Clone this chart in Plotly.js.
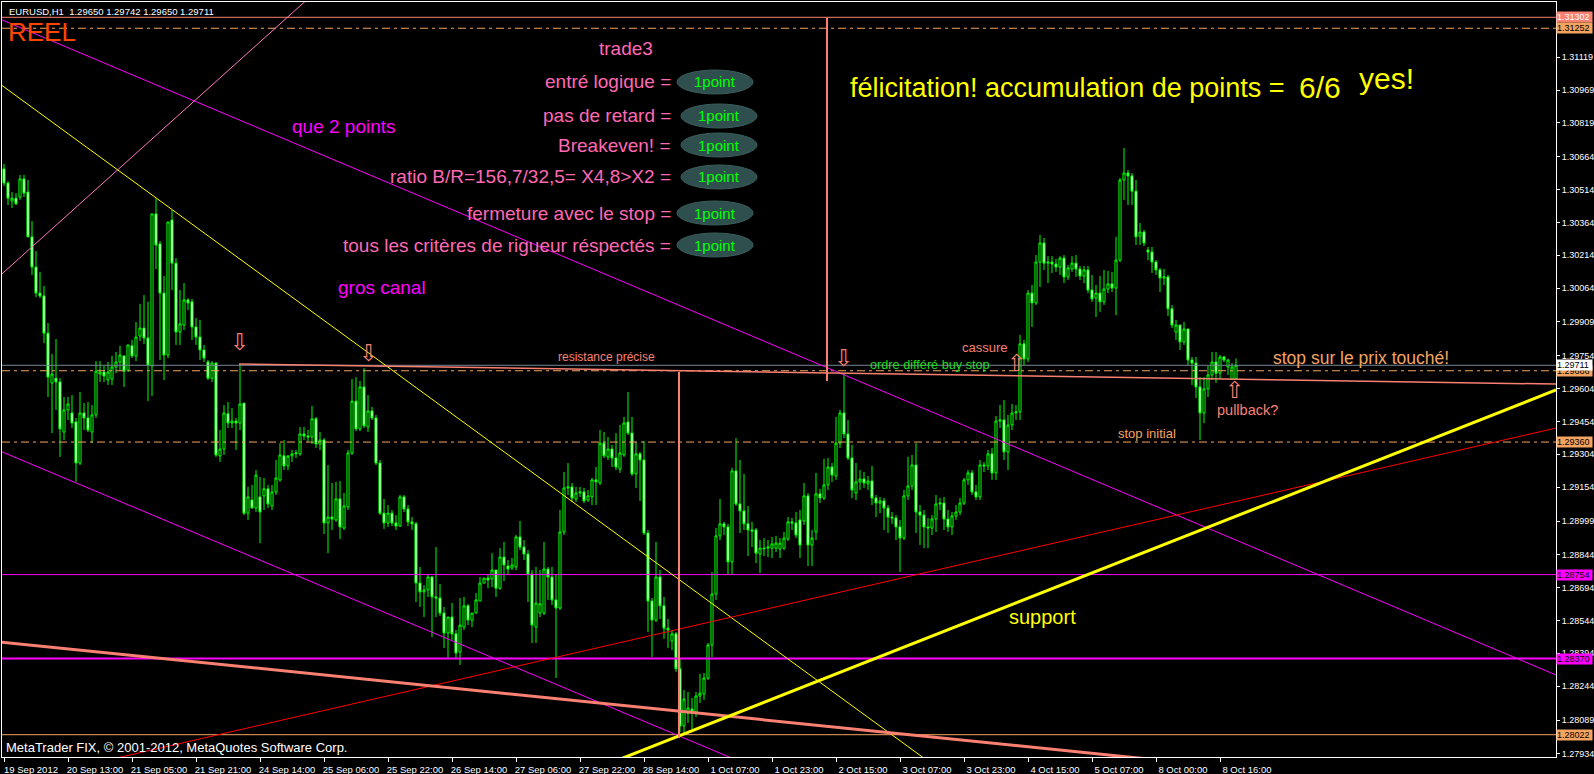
<!DOCTYPE html>
<html><head><meta charset="utf-8">
<script src="https://cdn.plot.ly/plotly-3.0.1.min.js"></script>
<style>html,body{margin:0;padding:0;background:#000;overflow:hidden}#chart{width:1594px;height:774px}</style>
</head><body><div id="chart"></div>
<script>
// ---------- DATA (EURUSD H1) ----------
const barOpen=[
1.30609,1.30544,1.30462,1.30475,1.30480,1.30563,1.30503,1.30298,1.30160,1.30041,
1.30028,1.29858,1.29630,1.29652,1.29635,1.29406,1.29507,1.29493,1.29452,1.29264,
1.29493,1.29470,1.29406,1.29484,1.29671,1.29680,1.29644,1.29648,1.29703,1.29726,
1.29754,1.29689,1.29800,1.29754,1.29845,1.29881,1.29836,1.29708,1.30403,1.30266,
1.30041,1.29758,1.30375,1.30178,1.29863,1.29895,1.30010,1.30001,1.29886,1.29840,
1.29781,1.29726,1.29652,1.29721,1.29297,1.29328,1.29489,1.29447,1.29456,1.29447,
1.29538,1.29035,1.29095,1.29058,1.29109,1.29114,1.29146,1.29068,1.29132,1.29187,
1.29297,1.29251,1.29297,1.29306,1.29306,1.29397,1.29388,1.29383,1.29466,1.29351,
1.29369,1.28990,1.29017,1.29004,1.29100,1.28967,1.29063,1.29310,1.29547,1.29420,
1.29612,1.29429,1.29502,1.29470,1.29264,1.29035,1.28990,1.29035,1.28990,1.28976,
1.29109,1.29054,1.28995,1.28986,1.28715,1.28675,1.28684,1.28743,1.28652,1.28647,
1.28578,1.28487,1.28560,1.28483,1.28400,1.28514,1.28611,1.28546,1.28578,1.28633,
1.28715,1.28738,1.28734,1.28775,1.28692,1.28834,1.28793,1.28784,1.28789,1.28926,
1.28880,1.28848,1.28757,1.28514,1.28578,1.28578,1.28779,1.28743,1.28638,1.28601,
1.28949,1.29150,1.29155,1.29100,1.29127,1.29132,1.29095,1.29109,1.29187,1.29173,
1.29355,1.29292,1.29328,1.29287,1.29237,1.29301,1.29452,1.29401,1.29214,1.29306,
1.29278,1.28944,1.28633,1.28546,1.28743,1.28611,1.28509,1.28450,1.28483,1.28323,
1.28062,1.28121,1.28139,1.28126,1.28199,1.28208,1.28281,1.28432,1.28665,1.28931,
1.28986,1.28972,1.28812,1.29228,1.29077,1.29045,1.28986,1.28958,1.28958,1.28848,
1.28875,1.28875,1.28875,1.28875,1.28871,1.28875,1.28917,1.28995,1.28990,1.29004,
1.28999,1.29114,1.28889,1.28949,1.29123,1.29104,1.29164,1.29246,1.29205,1.29355,
1.29493,1.29397,1.29287,1.29127,1.29178,1.29191,1.29169,1.29182,1.29104,1.29081,
1.29091,1.29058,1.29017,1.29013,1.28972,1.28921,1.29114,1.29159,1.29255,1.29040,
1.29026,1.28972,1.28967,1.29008,1.29077,1.29081,1.29008,1.28972,1.29022,1.29040,
1.29081,1.29187,1.29219,1.29132,1.29109,1.29255,1.29251,1.29306,1.29219,1.29456,
1.29461,1.29315,1.29438,1.29493,1.29498,1.29809,1.29740,1.30041,1.29996,1.30183,
1.30270,1.30178,1.30183,1.30174,1.30160,1.30201,1.30115,1.30151,1.30178,1.30151,
1.30119,1.30147,1.30055,1.30018,1.30041,1.30001,1.30060,1.30083,1.30064,1.30192,
1.30558,1.30590,1.30577,1.30507,1.30302,1.30320,1.30238,1.30229,1.30183,1.30147,
1.30110,1.30115,1.29969,1.29863,1.29895,1.29818,1.29877,1.29735,1.29721,1.29612,
1.29493,1.29603,1.29667,1.29726,1.29675,1.29749,1.29703,1.29648,1.29650];
const barHigh=[
1.30632,1.30553,1.30503,1.30498,1.30581,1.30581,1.30558,1.30370,1.30233,1.30138,
1.30074,1.29904,1.29763,1.29831,1.29652,1.29566,1.29566,1.29575,1.29470,1.29589,
1.29538,1.29543,1.29529,1.29730,1.29730,1.29708,1.29726,1.29754,1.29772,1.29800,
1.29754,1.29804,1.29827,1.29909,1.29992,1.30032,1.30001,1.30403,1.30475,1.30279,
1.30120,1.30366,1.30421,1.30201,1.30055,1.30087,1.30018,1.30014,1.29927,1.29918,
1.29804,1.29735,1.29730,1.29726,1.29415,1.29529,1.29543,1.29515,1.29470,1.29717,
1.29538,1.29155,1.29164,1.29232,1.29200,1.29196,1.29164,1.29164,1.29278,1.29355,
1.29369,1.29287,1.29324,1.29324,1.29429,1.29429,1.29415,1.29525,1.29475,1.29406,
1.29378,1.29255,1.29173,1.29178,1.29182,1.29127,1.29324,1.29648,1.29657,1.29639,
1.29698,1.29575,1.29520,1.29484,1.29278,1.29100,1.29072,1.29049,1.29026,1.29118,
1.29118,1.29072,1.29017,1.28995,1.28789,1.28706,1.28752,1.28748,1.28880,1.28711,
1.28606,1.28560,1.28624,1.28501,1.28647,1.28652,1.28620,1.28578,1.28670,1.28743,
1.28738,1.28752,1.28852,1.28775,1.28875,1.28903,1.28821,1.28830,1.28935,1.28999,
1.28912,1.28866,1.28775,1.28789,1.28775,1.28903,1.28789,1.28789,1.28752,1.29049,
1.29223,1.29264,1.29173,1.29155,1.29155,1.29150,1.29141,1.29196,1.29246,1.29415,
1.29406,1.29383,1.29347,1.29401,1.29438,1.29475,1.29589,1.29475,1.29360,1.29315,
1.29365,1.28958,1.28647,1.28903,1.28775,1.28652,1.28551,1.28501,1.28492,1.28368,
1.28226,1.28217,1.28190,1.28217,1.28300,1.28304,1.28441,1.28766,1.28967,1.29100,
1.28995,1.28986,1.29242,1.29378,1.29278,1.29214,1.29068,1.28995,1.28967,1.28912,
1.28921,1.28912,1.28926,1.28931,1.28921,1.28949,1.29017,1.29013,1.29040,1.29049,
1.29173,1.29127,1.28958,1.29219,1.29146,1.29283,1.29287,1.29264,1.29475,1.29507,
1.29675,1.29461,1.29347,1.29264,1.29232,1.29223,1.29205,1.29251,1.29118,1.29109,
1.29104,1.29072,1.29040,1.29026,1.29004,1.29141,1.29292,1.29301,1.29355,1.29072,
1.29049,1.29013,1.29026,1.29118,1.29104,1.29109,1.29049,1.29040,1.29072,1.29104,
1.29196,1.29232,1.29232,1.29164,1.29278,1.29269,1.29324,1.29333,1.29479,1.29529,
1.29552,1.29484,1.29534,1.29529,1.29850,1.29827,1.30055,1.30078,1.30215,1.30307,
1.30293,1.30210,1.30210,1.30197,1.30210,1.30215,1.30170,1.30210,1.30215,1.30165,
1.30165,1.30165,1.30124,1.30078,1.30120,1.30147,1.30142,1.30138,1.30298,1.30567,
1.30704,1.30604,1.30590,1.30558,1.30361,1.30330,1.30252,1.30252,1.30192,1.30156,
1.30151,1.30124,1.29987,1.29918,1.29895,1.29909,1.29877,1.29749,1.29749,1.29657,
1.29657,1.29708,1.29772,1.29772,1.29758,1.29754,1.29740,1.29721,1.29742];
const barLow=[
1.30531,1.30444,1.30430,1.30444,1.30467,1.30480,1.30298,1.30124,1.30023,1.30018,
1.29813,1.29566,1.29401,1.29507,1.29292,1.29369,1.29461,1.29424,1.29178,1.29255,
1.29415,1.29406,1.29355,1.29470,1.29635,1.29635,1.29621,1.29621,1.29675,1.29689,
1.29612,1.29680,1.29744,1.29730,1.29822,1.29809,1.29547,1.29571,1.30151,1.29735,
1.29644,1.29744,1.30055,1.29804,1.29804,1.29872,1.29964,1.29827,1.29804,1.29735,
1.29726,1.29644,1.29635,1.29292,1.29269,1.29301,1.29424,1.29424,1.29324,1.29415,
1.29026,1.29004,1.29058,1.29040,1.28898,1.29049,1.29058,1.29049,1.29118,1.29178,
1.29232,1.29232,1.29269,1.29287,1.29297,1.29369,1.29360,1.29351,1.29333,1.29324,
1.28940,1.28852,1.28958,1.28995,1.28917,1.28958,1.29049,1.29301,1.29410,1.29410,
1.29424,1.29406,1.29461,1.29255,1.29026,1.28963,1.28972,1.28976,1.28958,1.28972,
1.29040,1.28976,1.28958,1.28629,1.28606,1.28560,1.28652,1.28468,1.28560,1.28565,
1.28418,1.28372,1.28455,1.28368,1.28341,1.28501,1.28523,1.28514,1.28578,1.28633,
1.28715,1.28692,1.28697,1.28652,1.28684,1.28724,1.28752,1.28775,1.28775,1.28866,
1.28821,1.28629,1.28441,1.28441,1.28560,1.28569,1.28638,1.28615,1.28281,1.28592,
1.28935,1.29118,1.29086,1.29086,1.29109,1.29081,1.29086,1.29072,1.29072,1.29164,
1.29287,1.29278,1.29246,1.29232,1.29219,1.29292,1.29392,1.29205,1.29150,1.29091,
1.28935,1.28492,1.28377,1.28537,1.28551,1.28460,1.28418,1.28409,1.28309,1.28034,
1.28030,1.28076,1.28048,1.28103,1.28167,1.28181,1.28272,1.28377,1.28638,1.28912,
1.28935,1.28752,1.28752,1.29068,1.28944,1.28958,1.28839,1.28880,1.28807,1.28761,
1.28839,1.28834,1.28830,1.28857,1.28830,1.28866,1.28908,1.28958,1.28921,1.28830,
1.28981,1.28793,1.28793,1.28912,1.29081,1.29095,1.29141,1.29178,1.29187,1.29333,
1.29378,1.29278,1.29104,1.29095,1.29141,1.29150,1.29141,1.29072,1.29017,1.29035,
1.28958,1.28944,1.28986,1.28912,1.28766,1.28912,1.29095,1.29141,1.28944,1.28889,
1.28875,1.28875,1.28935,1.28949,1.29049,1.28958,1.28949,1.28935,1.29004,1.29026,
1.29072,1.29164,1.29118,1.29095,1.29095,1.29223,1.29232,1.29187,1.29187,1.29424,
1.29278,1.29232,1.29415,1.29461,1.29461,1.29712,1.29726,1.29886,1.29987,1.30069,
1.30147,1.30087,1.30133,1.30138,1.30124,1.30087,1.30101,1.30138,1.30115,1.30101,
1.30087,1.30041,1.30001,1.29932,1.29955,1.29987,1.30041,1.30046,1.29941,1.30183,
1.30467,1.30444,1.30444,1.30261,1.30261,1.30256,1.30192,1.30133,1.30124,1.30046,
1.30078,1.29936,1.29881,1.29827,1.29781,1.29804,1.29712,1.29621,1.29561,1.29369,
1.29447,1.29566,1.29644,1.29630,1.29648,1.29726,1.29667,1.29644,1.29650];
const barClose=[
1.30544,1.30475,1.30475,1.30449,1.30563,1.30498,1.30298,1.30160,1.30041,1.30028,
1.29858,1.29657,1.29671,1.29635,1.29420,1.29507,1.29534,1.29447,1.29264,1.29493,
1.29470,1.29415,1.29484,1.29684,1.29680,1.29662,1.29680,1.29703,1.29726,1.29758,
1.29684,1.29804,1.29754,1.29840,1.29881,1.29836,1.29712,1.30403,1.30261,1.30041,
1.29758,1.30366,1.30178,1.29863,1.29900,1.30010,1.29996,1.29886,1.29840,1.29781,
1.29744,1.29652,1.29721,1.29301,1.29328,1.29493,1.29447,1.29456,1.29447,1.29534,
1.29035,1.29109,1.29058,1.29209,1.29040,1.29146,1.29077,1.29132,1.29196,1.29301,
1.29251,1.29297,1.29306,1.29310,1.29397,1.29388,1.29383,1.29466,1.29351,1.29369,
1.28990,1.29017,1.29008,1.29100,1.28972,1.29068,1.29310,1.29547,1.29420,1.29612,
1.29434,1.29502,1.29470,1.29264,1.29035,1.28990,1.29035,1.28990,1.28976,1.29109,
1.29054,1.28995,1.28986,1.28715,1.28675,1.28684,1.28743,1.28652,1.28647,1.28578,
1.28487,1.28560,1.28483,1.28395,1.28523,1.28611,1.28546,1.28578,1.28638,1.28715,
1.28738,1.28729,1.28775,1.28692,1.28834,1.28798,1.28779,1.28798,1.28926,1.28880,
1.28848,1.28757,1.28523,1.28624,1.28620,1.28779,1.28743,1.28638,1.28601,1.28949,
1.29150,1.29155,1.29104,1.29127,1.29132,1.29091,1.29114,1.29187,1.29178,1.29355,
1.29297,1.29328,1.29287,1.29246,1.29310,1.29447,1.29401,1.29214,1.29306,1.29278,
1.28944,1.28633,1.28546,1.28743,1.28611,1.28509,1.28501,1.28483,1.28323,1.28062,
1.28185,1.28144,1.28126,1.28199,1.28212,1.28281,1.28432,1.28665,1.28931,1.28986,
1.28972,1.28812,1.29228,1.29077,1.29045,1.28986,1.28958,1.28953,1.28852,1.28875,
1.28872,1.28880,1.28894,1.28898,1.28898,1.28921,1.28995,1.28990,1.28935,1.28889,
1.29114,1.28889,1.28921,1.29123,1.29104,1.29164,1.29246,1.29209,1.29355,1.29493,
1.29397,1.29287,1.29141,1.29178,1.29191,1.29173,1.29182,1.29104,1.29081,1.29091,
1.29058,1.29017,1.29013,1.28972,1.28921,1.29114,1.29159,1.29255,1.29040,1.29026,
1.28972,1.28967,1.29008,1.29077,1.29081,1.29008,1.28972,1.29022,1.29040,1.29081,
1.29187,1.29219,1.29132,1.29109,1.29255,1.29251,1.29306,1.29219,1.29456,1.29461,
1.29315,1.29438,1.29493,1.29498,1.29809,1.29740,1.30041,1.29996,1.30183,1.30270,
1.30178,1.30183,1.30174,1.30160,1.30201,1.30115,1.30156,1.30178,1.30151,1.30119,
1.30147,1.30055,1.30014,1.30041,1.30001,1.30060,1.30083,1.30064,1.30192,1.30558,
1.30590,1.30577,1.30507,1.30298,1.30320,1.30270,1.30229,1.30183,1.30147,1.30110,
1.30115,1.29969,1.29895,1.29895,1.29818,1.29877,1.29735,1.29721,1.29612,1.29493,
1.29603,1.29667,1.29726,1.29675,1.29749,1.29735,1.29735,1.29703,1.29711];

const xTickBars=[0,16,32,48,64,80,96,112,128,144,160,176,192,208,224,240,256,272,288,304];
const xTickText=["19 Sep 2012","20 Sep 13:00","21 Sep 05:00","21 Sep 21:00","24 Sep 14:00","25 Sep 06:00","25 Sep 22:00","26 Sep 14:00","27 Sep 06:00","27 Sep 22:00","28 Sep 14:00","1 Oct 07:00","1 Oct 23:00","2 Oct 15:00","3 Oct 07:00","3 Oct 23:00","4 Oct 15:00","5 Oct 07:00","8 Oct 00:00","8 Oct 16:00"];
const yTickVals=[1.27934,1.28089,1.28244,1.28394,1.28544,1.28694,1.28844,1.28999,1.29154,1.29304,1.29454,1.29604,1.29754,1.29909,1.30064,1.30214,1.30364,1.30514,1.30664,1.30819,1.30969,1.31119];
const yTickText=["1.27934","1.28089","1.28244","1.28394","1.28544","1.28694","1.28844","1.28999","1.29154","1.29304","1.29454","1.29604","1.29754","1.29909","1.30064","1.30214","1.30364","1.30514","1.30664","1.30819","1.30969","1.31119"];

// horizontal price levels
const levelPrices=[1.31302,1.31252,1.29686,1.29711,1.29360,1.28754,1.28370,1.28022];
const levelLabels=["1.31302","1.31252","1.29686","1.29711","1.29360","1.28754","1.28370","1.28022"];

// trend lines: [bar index, price] end points
const channelTop=[[-1,1.31294],[388,1.28295]];
const channelBottom=[[-1,1.29319],[189,1.27861]];
const pinkLine=[[-1,1.30121],[79,1.31436]];
const yellowThin=[[-1,1.30997],[234,1.27861]];
const redLine=[[14,1.27856],[388,1.29424]];
const supportLine=[[144,1.27838],[388,1.29598]];
const salmonLine=[[-1,1.28446],[325,1.27838]];
const resistanceLine=[[58.75,1.29717],[388,1.29625]];
const entryVLine=[[168.75,1.29680],[168.75,1.28007]];
const orderVLine=[[205.75,1.31299],[205.75,1.29639]];

// ---------- DRAWING ----------
const FONT='Liberation Sans, Arial, sans-serif';
const W=1594,H=774,ML=2,MR=38,MT=2,MB=17;
const PW=W-ML-MR, PH=H-MT-MB;
const PX=x=>(x-ML)/PW, PY=y=>(H-MB-y)/PH;

const barIdx=barOpen.map((_,i)=>i);
const trace={type:'candlestick',x:barIdx,open:barOpen,high:barHigh,low:barLow,close:barClose,
  increasing:{line:{color:'#00ff00',width:1},fillcolor:'#000000'},
  decreasing:{line:{color:'#00ff00',width:1},fillcolor:'#ffffff'},
  whiskerwidth:0,hoverinfo:'skip',showlegend:false};

const DASHDOT='8px,4px,3px,4px';
const levelStyle=[
 {c:'#fa8072',d:'solid',w:1,bg:'#fa8072',fc:'#ffffff'},
 {c:'#f4a460',d:DASHDOT,w:1,bg:'#f4a460',fc:'#000000'},
 {c:'#f4a460',d:DASHDOT,w:1,bg:'#f4a460',fc:'#000000'},
 {c:'#778899',d:'solid',w:1,bg:'#ffffff',fc:'#000000'},
 {c:'#f4a460',d:DASHDOT,w:1,bg:'#f4a460',fc:'#000000'},
 {c:'#ff00ff',d:'solid',w:1,bg:'#ff00ff',fc:'#000000'},
 {c:'#ff00ff',d:'solid',w:2,bg:'#ff00ff',fc:'#000000'},
 {c:'#f4a460',d:'solid',w:1,bg:'#f4a460',fc:'#000000'}];

const shapes=[];
levelPrices.forEach((p,k)=>{
  const s=levelStyle[k];
  shapes.push({type:'line',xref:'paper',x0:0,x1:1,yref:'y',y0:p,y1:p,line:{color:s.c,width:s.w,dash:s.d},layer:'above'});
});
function seg(pts,color,width){
  shapes.push({type:'line',xref:'x',yref:'y',x0:pts[0][0],y0:pts[0][1],x1:pts[1][0],y1:pts[1][1],line:{color:color,width:width},layer:'above'});
}
seg(channelTop,'#ff00ff',1);
seg(channelBottom,'#ff00ff',1);
seg(pinkLine,'#ff78c0',1);
seg(yellowThin,'#ffff00',1);
seg(redLine,'#ff0000',1);
seg(salmonLine,'#fa8072',3);
seg(supportLine,'#ffff00',3);
seg(resistanceLine,'#fa8072',1.5);
seg(entryVLine,'#fa8072',2);
seg(orderVLine,'#fa8072',2);

const PINK='#ff69b4';
const ann=[];
function T(x,y,text,size,color,xanchor,family){
  ann.push({xref:'paper',yref:'paper',x:PX(x),y:PY(y),text:text,showarrow:false,
    xanchor:xanchor||'left',yanchor:'middle',font:{size:size,color:color,family:family||FONT}});
}
T(7,11,'EURUSD,H1\u00a0\u00a01.29650 1.29742 1.29650 1.29711',9.5,'#ffffff');
T(6,32,'REEL',26,'#ff4500','left','Liberation Sans Narrow, Arial Narrow, Liberation Sans, Arial');
T(626,48,'trade3',19,PINK,'center');
const rowText=['entré logique =','pas de retard =','Breakeven! =','ratio B/R=156,7/32,5= X4,8>X2 =','fermeture avec le stop =','tous les critères de rigueur réspectés ='];
const rowY=[82,116,145,177,213,245];
const badgeX=[715,719,719,719,715,715];
rowText.forEach((t,k)=>{
  T(673,rowY[k],t,19,PINK,'right');
  shapes.push({type:'circle',xref:'paper',yref:'paper',x0:PX(badgeX[k]-38),x1:PX(badgeX[k]+38),
    y0:PY(rowY[k]+12),y1:PY(rowY[k]-12),fillcolor:'#2f4f4f',line:{color:'#3c5e5e',width:1},layer:'above'});
  T(badgeX[k],rowY[k],'1point',15,'#00ff00','center');
});
T(290,127,'que 2 points',19,'#ff00ff');
T(336,287,'gros canal',19,'#ff00ff');
T(848,88,'félicitation! accumulation de points =',27,'#ffff00');
T(1297,87,'6/6',30,'#ffff00');
T(1357,78,'yes!',30,'#ffff00');
T(556,357,'resistance précise',12,'#fa8072');
T(868,365,'ordre différé buy stop',12.7,'#22dd22');
T(960,347,'cassure',13,'#fa8072');
T(1116,433,'stop initial',13,'#f4a460');
T(1215,410,'pullback?',14.5,'#fa8072');
T(1271,358,'stop sur le prix touché!',17.5,'#f4a460');
T(1007,617,'support',20,'#ffff00');
T(4,747,'MetaTrader FIX, © 2001-2012, MetaQuotes Software Corp.',13,'#ffffff');
const AF='DejaVu Sans, sans-serif';
T(239,342,'⇩',23,'#fa8072','center',AF);
T(368,353,'⇩',23,'#fa8072','center',AF);
T(843,358,'⇩',23,'#fa8072','center',AF);
T(1016,363,'⇧',23,'#fa8072','center',AF);
T(1234,390,'⇧',23,'#fa8072','center',AF);

// price tags on the right scale
levelPrices.forEach((p,k)=>{
  const s=levelStyle[k];
  ann.push({xref:'paper',x:1,xanchor:'left',xshift:0,yref:'y',y:p,yanchor:'middle',
    text:levelLabels[k],showarrow:false,bgcolor:s.bg,width:35,height:10,borderpad:0,align:'left',
    font:{size:9,color:s.fc,family:FONT}});
});

const layout={
  width:W,height:H,paper_bgcolor:'#000000',plot_bgcolor:'#000000',
  margin:{l:ML,r:MR,t:MT,b:MB,pad:0},showlegend:false,hovermode:false,boxgap:0.25,
  font:{family:FONT,color:'#ffffff'},
  xaxis:{range:[-0.5,388],showgrid:false,zeroline:false,showline:true,linecolor:'#ffffff',linewidth:1,mirror:true,
    ticks:'outside',ticklen:4,tickcolor:'#ffffff',tickvals:xTickBars,ticktext:xTickText,
    tickfont:{size:9.5,color:'#ffffff',family:FONT},ticklabelshift:27,rangeslider:{visible:false},fixedrange:true},
  yaxis:{side:'right',range:[1.27920,1.31372],showgrid:false,zeroline:false,showline:true,linecolor:'#ffffff',linewidth:1,mirror:true,
    ticks:'outside',ticklen:3,tickcolor:'#ffffff',tickvals:yTickVals,ticktext:yTickText,
    tickfont:{size:9,color:'#ffffff',family:FONT},fixedrange:true},
  shapes:shapes,annotations:ann
};
Plotly.newPlot('chart',[trace],layout,{staticPlot:true,displayModeBar:false});
</script></body></html>
